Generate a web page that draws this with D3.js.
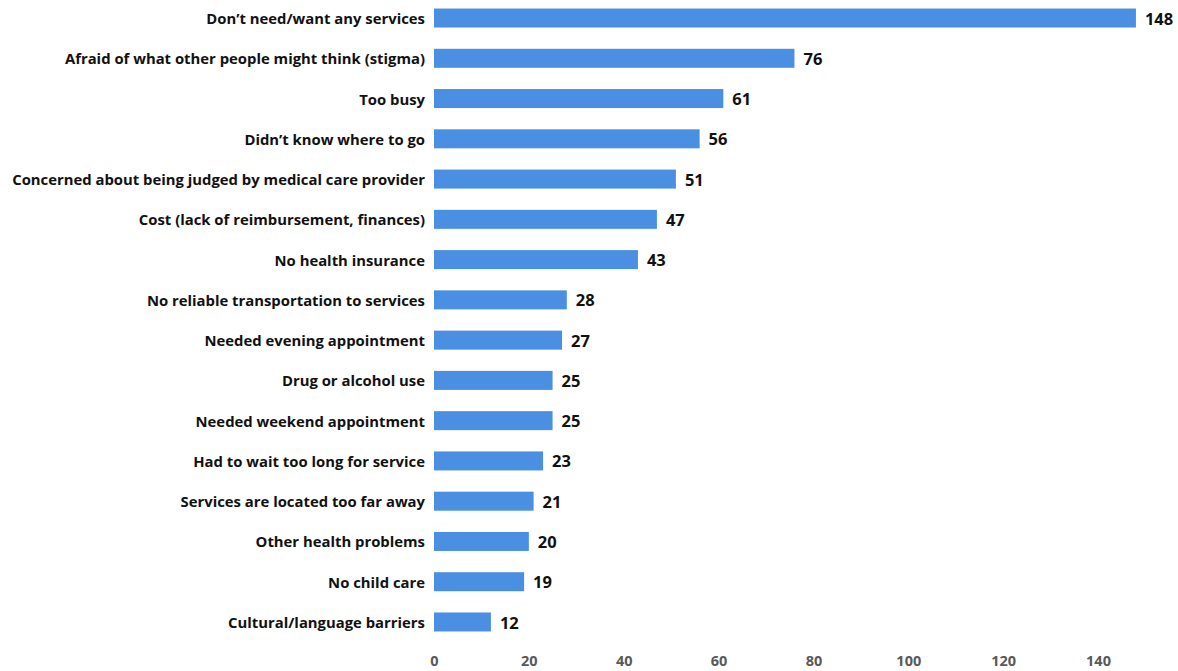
<!DOCTYPE html>
<html><head><meta charset="utf-8">
<script src="https://cdn.jsdelivr.net/npm/d3@7/dist/d3.min.js"></script>
<style>body{margin:0;background:#fff;} svg{display:block;}</style>
</head><body>
<svg id="c" width="1178" height="671"></svg>
<script>
const categories = [
  "Don\u2019t need/want any services",
  "Afraid of what other people might think (stigma)",
  "Too busy",
  "Didn\u2019t know where to go",
  "Concerned about being judged by medical care provider",
  "Cost (lack of reimbursement, finances)",
  "No health insurance",
  "No reliable transportation to services",
  "Needed evening appointment",
  "Drug or alcohol use",
  "Needed weekend appointment",
  "Had to wait too long for service",
  "Services are located too far away",
  "Other health problems",
  "No child care",
  "Cultural/language barriers"
];
const values = [148, 76, 61, 56, 51, 47, 43, 28, 27, 25, 25, 23, 21, 20, 19, 12];
const tickValues = [0, 20, 40, 60, 80, 100, 120, 140];

const svg = d3.select("#c");
const font = "'Open Sans', 'Noto Sans', sans-serif";
const x = d3.scaleLinear().domain([0, 140]).range([434, 1098]);
const y = d3.scaleBand().domain(categories).range([-2.1, 642.1]).paddingInner(0.528).paddingOuter(0.264);

svg.append("g").selectAll("rect").data(values).join("rect")
  .attr("x", x(0))
  .attr("y", (d, i) => y(categories[i]))
  .attr("width", d => x(d) - x(0))
  .attr("height", y.bandwidth())
  .attr("fill", "#4a8fe2");

svg.append("g").selectAll("text").data(categories).join("text")
  .attr("x", 425)
  .attr("y", d => y(d) + y.bandwidth() / 2 + 0.8)
  .attr("dy", "0.35em")
  .attr("text-anchor", "end")
  .attr("font-family", font)
  .attr("font-weight", "bold")
  .attr("font-size", "14.85px")
  .attr("fill", "#111")
  .text(d => d);

svg.append("g").selectAll("text").data(values).join("text")
  .attr("x", d => x(d) + 9)
  .attr("y", (d, i) => y(categories[i]) + y.bandwidth() / 2 + 0.8)
  .attr("dy", "0.35em")
  .attr("font-family", font)
  .attr("font-weight", "bold")
  .attr("font-size", "16.5px")
  .attr("fill", "#111")
  .text(d => d);

const axis = d3.axisBottom(x).tickValues(tickValues).tickSize(0).tickPadding(0);
const ag = svg.append("g").attr("transform", "translate(0,656)").call(axis);
ag.select(".domain").remove();
ag.selectAll("text")
  .attr("font-family", font)
  .attr("font-weight", "bold")
  .attr("font-size", "14.5px")
  .attr("fill", "#595959");
</script>
</body></html>
